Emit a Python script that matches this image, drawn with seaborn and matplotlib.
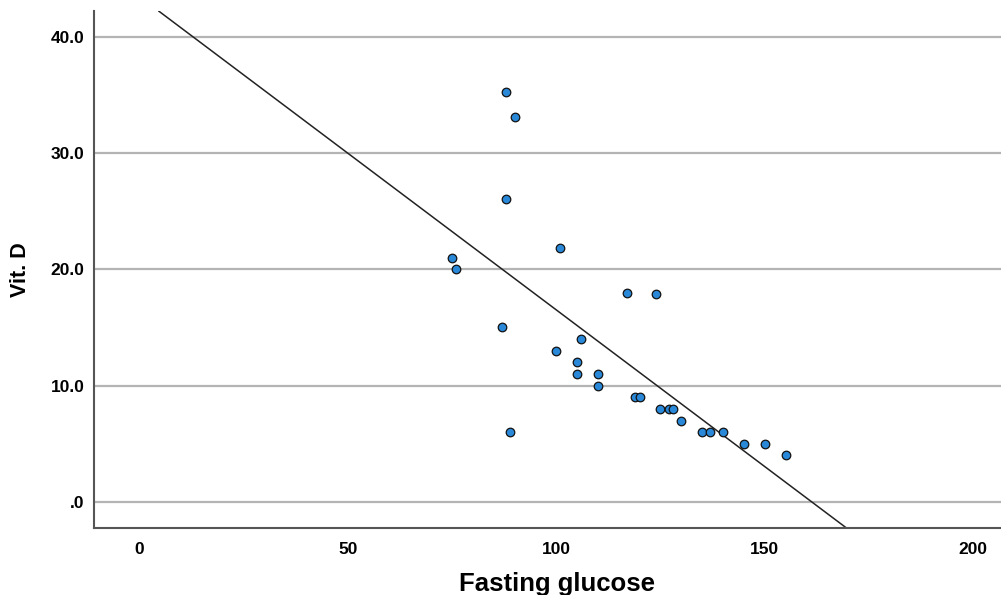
import matplotlib
matplotlib.use("Agg")
import matplotlib.pyplot as plt
import seaborn as sns
import pandas as pd
import numpy as np

# Data
fasting_glucose = [88, 90, 88, 101, 75, 76, 117, 124, 87, 106, 100, 105, 105, 110, 110,
                   119, 120, 125, 127, 128, 130, 135, 137, 140, 89, 145, 150, 155]
vit_d = [35.2, 33.1, 26.0, 21.8, 21.0, 20.0, 18.0, 17.9, 15.0, 14.0, 13.0, 12.0, 11.0, 11.0, 10.0,
         9.0, 9.0, 8.0, 8.0, 8.0, 7.0, 6.0, 6.0, 6.0, 6.0, 5.0, 5.0, 4.0]

# Fit line
fit_intercept = 43.44
fit_slope = -0.2693

x_ticks = [0, 50, 100, 150, 200]
x_tick_labels = ["0", "50", "100", "150", "200"]
y_ticks = [0, 10, 20, 30, 40]
y_tick_labels = [".0", "10.0", "20.0", "30.0", "40.0"]

df = pd.DataFrame({"Fasting glucose": fasting_glucose, "Vit. D": vit_d})

sns.set_style("white")
plt.rcParams["font.family"] = ["Liberation Sans", "DejaVu Sans"]

fig = plt.figure(figsize=(10.01, 5.95), dpi=100)
ax = fig.add_axes([94 / 1001, 1 - 528 / 595, 1 - 94 / 1001, (528 - 11) / 595])

ax.set_xlim(-10.9, 206.7)
ax.set_ylim(-2.24, 42.2)

for yt in y_ticks:
    ax.axhline(yt, color="#b4b4b4", lw=1.6, zorder=0)

ax.axline((0, fit_intercept), slope=fit_slope, color="#222222", lw=1.1, zorder=2)

sns.scatterplot(data=df, x="Fasting glucose", y="Vit. D", ax=ax,
                color="#2a88d8", edgecolor="#111111", linewidth=0.9, s=38, zorder=3)

ax.set_xticks(x_ticks)
ax.set_xticklabels(x_tick_labels)
ax.set_yticks(y_ticks)
ax.set_yticklabels(y_tick_labels)
ax.tick_params(axis="both", length=0, labelsize=12.5, labelcolor="black")
ax.tick_params(axis="x", pad=10)
ax.tick_params(axis="y", pad=7)
for lab in ax.get_xticklabels() + ax.get_yticklabels():
    lab.set_fontweight("bold")

ax.set_xlabel("Fasting glucose", fontsize=18.5, fontweight="bold", labelpad=10, color="black")
ax.xaxis.set_label_coords(0.51, -0.085)
ax.set_ylabel("Vit. D", fontsize=15.5, fontweight="bold", labelpad=14, color="black")

for side in ["top", "right"]:
    ax.spines[side].set_visible(False)
for side in ["left", "bottom"]:
    ax.spines[side].set_color("#555555")
    ax.spines[side].set_linewidth(1.5)

fig.savefig("out.png", dpi=100, facecolor="white")
